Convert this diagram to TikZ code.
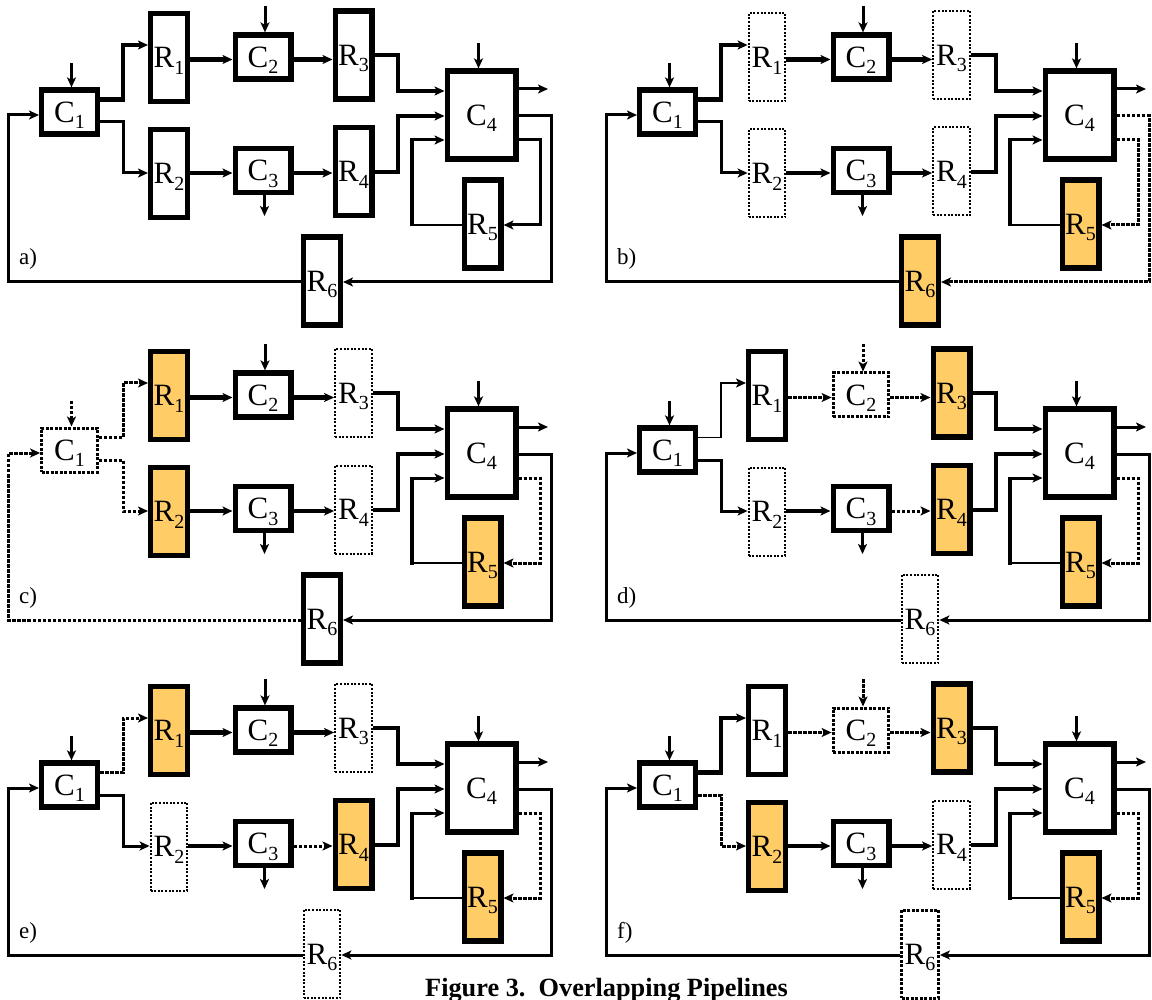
\documentclass[tikz,border=0pt]{standalone}
\usepackage{fontspec}
\setmainfont{Liberation Serif}
\usetikzlibrary{arrows.meta}
\definecolor{busyfill}{HTML}{FFCC66}
% unit label with a lowered index that does not change the text box
\newcommand\lbl[2]{#1\raisebox{-6.5pt}[0pt][0pt]{\fontsize{20}{20}\selectfont #2}}

\tikzset{
  >={Stealth[length=10pt,width=9pt,inset=2.5pt]},
  unit/.style={draw, fill=white, inner sep=0pt, font=\fontsize{31}{32}\selectfont},
  solidunit/.style={unit, line width=5.2pt},
  busyunit/.style={unit, line width=5.2pt, fill=busyfill},
  idleunit/.style={unit, line width=2pt, dash pattern=on 2pt off 1.6pt},
  stallunit/.style={unit, line width=3pt, dash pattern=on 3pt off 1.5pt},
  csize/.style={minimum width=55.8pt, minimum height=44pt},
  rsize/.style={minimum width=36.8pt, minimum height=88pt},
  c4size/.style={minimum width=68.8pt, minimum height=88pt},
  thk/.style={line width=4.8pt},
  nrm/.style={line width=3pt},
  thn/.style={line width=1.8pt},
  dthk/.style={line width=3pt, dash pattern=on 3.5pt off 1.5pt},
  tag/.style={anchor=base west, inner sep=0pt, font=\fontsize{23}{25}\selectfont},
  % default look of every unit and connector
  bx c1/.style={solidunit}, bx c2/.style={solidunit}, bx c3/.style={solidunit},
  bx c4/.style={solidunit},
  bx r1/.style={solidunit}, bx r2/.style={solidunit}, bx r3/.style={solidunit},
  bx r4/.style={solidunit}, bx r5/.style={solidunit}, bx r6/.style={solidunit},
  ln inc1/.style={nrm}, ln inc2/.style={nrm},
  ln c1r1/.style={thk}, ln c1r2/.style={nrm},
  ln r1c2/.style={thk}, ln c2r3/.style={thk},
  ln r2c3/.style={thk}, ln c3r4/.style={thk},
  ln c4r5/.style={nrm}, ln c4r6/.style={nrm}, ln r6c1/.style={nrm},
}

% one pipeline diagram, drawn in pixel-like units
\newcommand\pipelinepanel[1]{%
  \node[bx c1, csize]  (C1) at (69.5,112)   {\lbl{C}{1}};
  \node[bx r1, rsize]  (R1) at (169,57.5)   {\lbl{R}{1}};
  \node[bx r2, rsize]  (R2) at (169,173.5)  {\lbl{R}{2}};
  \node[bx c2, csize]  (C2) at (263,57)     {\lbl{C}{2}};
  \node[bx c3, csize]  (C3) at (263,170.5)  {\lbl{C}{3}};
  \node[bx r3, rsize]  (R3) at (353.5,55)   {\lbl{R}{3}};
  \node[bx r4, rsize]  (R4) at (353.5,171.5){\lbl{R}{4}};
  \node[bx c4, c4size] (C4) at (481.5,115)  {\lbl{C}{4}};
  \node[bx r5, rsize]  (R5) at (482.5,224)  {\lbl{R}{5}};
  \node[bx r6, rsize]  (R6) at (322,281)    {\lbl{R}{6}};
  \node[tag] (tag) at (19,265) {#1};
  % open ends of the external inputs and outputs
  \coordinate (inC1)  at (71.5,63);
  \coordinate (inC2)  at (265,6);
  \coordinate (inC4)  at (478.5,43);
  \coordinate (outC3) at (264.5,216);
  \coordinate (outC4) at (548,89);
  \coordinate (loop)  at (412,225);
  % external inputs and outputs
  \draw[ln inc1,->] (inC1) -- (inC1 |- C1.north);
  \draw[ln inc2,->] (inC2) -- (inC2 |- C2.north);
  \draw[nrm,->] (inC4) -- (inC4 |- C4.north);
  \draw[nrm,->] (outC3 |- C3.south) -- (outC3);
  \draw[nrm,->] (C4.east |- outC4) -- (outC4);
  % forward paths
  \draw[ln c1r1,->] (C1.east |- 0,99.5) -| (123,45) -- (R1.west |- 0,45);
  \draw[ln c1r2,->] (C1.east |- 0,122) -| (123,173) -- (R2.west |- 0,173);
  \draw[ln r1c2,->] (R1.east |- 0,59.5) -- (C2.west |- 0,59.5);
  \draw[ln c2r3,->] (C2.east |- 0,59.5) -- (R3.west |- 0,59.5);
  \draw[ln r2c3,->] (R2.east |- 0,173) -- (C3.west |- 0,173);
  \draw[ln c3r4,->] (C3.east |- 0,173) -- (R4.west |- 0,173);
  \draw[thk,->] (R3.east |- 0,55) -| (398,91) -- (C4.west |- 0,91);
  \draw[thk,->] (R4.east |- 0,172) -| (398,116) -- (C4.west |- 0,116);
  % loops back from C4
  \draw[ln c4r5,->] (C4.east |- 0,140) -| (540,225) -- (R5.east |- 0,225);
  \draw[thn] (R5.west |- loop) -- (loop);
  \draw[thk] ([yshift=-1.5pt]loop) -- (412,138.5);
  \draw[nrm,->] (412,140) -- (C4.west |- 0,140);
  \draw[ln c4r6,->] (C4.east |- 0,116) -| (551,282) -- (R6.east |- 0,282);
  \draw[ln r6c1,->] (R6.west |- 0,282) -| (8.5,115) -- (C1.west |- 0,115);
}

\begin{document}
\begin{tikzpicture}[x=1pt, y=-1pt]
  \useasboundingbox (0,0) rectangle (1152,1000);

  \begin{scope}[name prefix=a-]
    \pipelinepanel{a)}
  \end{scope}

  \begin{scope}[shift={(598,0)}, name prefix=b-,
      bx r1/.style={idleunit}, bx r2/.style={idleunit},
      bx r3/.style={idleunit}, bx r4/.style={idleunit},
      bx r5/.style={busyunit}, bx r6/.style={busyunit},
      ln c4r5/.style={dthk}, ln c4r6/.style={dthk}]
    \pipelinepanel{b)}
  \end{scope}

  \begin{scope}[shift={(0,338)}, name prefix=c-,
      bx c1/.style={stallunit}, ln inc1/.style={dthk}, ln r6c1/.style={dthk},
      ln c1r1/.style={dthk}, ln c1r2/.style={dthk},
      bx r1/.style={busyunit}, bx r2/.style={busyunit},
      bx r3/.style={idleunit}, bx r4/.style={idleunit},
      bx r5/.style={busyunit}, ln c4r5/.style={dthk}]
    \pipelinepanel{c)}
  \end{scope}

  \begin{scope}[shift={(598,338)}, name prefix=d-,
      ln c1r1/.style={thn}, bx r2/.style={idleunit},
      bx c2/.style={stallunit}, ln inc2/.style={dthk},
      ln r1c2/.style={dthk}, ln c2r3/.style={dthk},
      bx r3/.style={busyunit}, ln c3r4/.style={dthk}, bx r4/.style={busyunit},
      bx r5/.style={busyunit}, bx r6/.style={idleunit}, ln c4r5/.style={dthk}]
    \pipelinepanel{d)}
  \end{scope}

  \begin{scope}[shift={(0,673)}, name prefix=e-,
      ln c1r1/.style={dthk}, bx r1/.style={busyunit}, bx r2/.style={idleunit},
      bx r3/.style={idleunit}, ln c3r4/.style={dthk}, bx r4/.style={busyunit},
      bx r5/.style={busyunit}, bx r6/.style={idleunit}, ln c4r5/.style={dthk}]
    \pipelinepanel{e)}
  \end{scope}

  \begin{scope}[shift={(598,673)}, name prefix=f-,
      ln c1r2/.style={dthk}, bx r2/.style={busyunit},
      ln r1c2/.style={dthk}, bx c2/.style={stallunit}, ln inc2/.style={dthk},
      ln c2r3/.style={dthk}, bx r3/.style={busyunit}, bx r4/.style={idleunit},
      bx r5/.style={busyunit}, bx r6/.style={stallunit}, ln c4r5/.style={dthk}]
    \pipelinepanel{f)}
  \end{scope}

  \node[anchor=base, inner sep=0pt, font=\bfseries\fontsize{26.3}{28}\selectfont]
    (caption) at (606.5,996) {Figure 3.\ \ Overlapping Pipelines};
\end{tikzpicture}
\end{document}
